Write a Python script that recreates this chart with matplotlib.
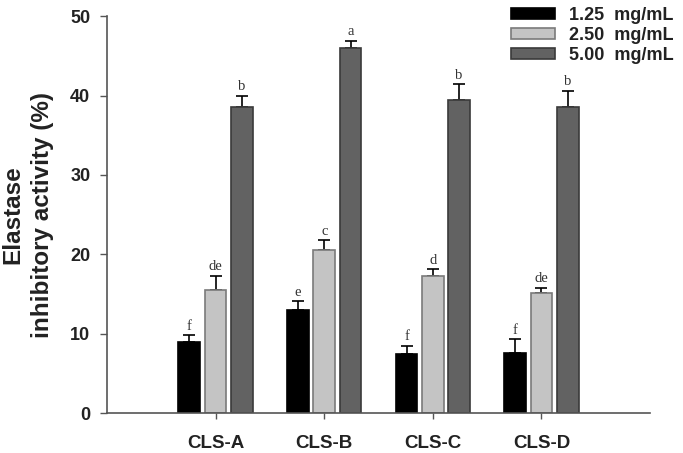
import matplotlib
matplotlib.use("Agg")
import matplotlib.pyplot as plt
import numpy as np

samples = ["CLS-A", "CLS-B", "CLS-C", "CLS-D"]
doses = ["1.25  mg/mL", "2.50  mg/mL", "5.00  mg/mL"]

low = [8.9, 13.0, 7.4, 7.6]
mid = [15.5, 20.6, 17.2, 15.1]
high = [38.6, 46.0, 39.5, 38.5]

low_err = [0.9, 1.1, 1.1, 1.7]
mid_err = [1.8, 1.2, 0.9, 0.7]
high_err = [1.4, 0.9, 1.9, 2.1]

low_lbl = ["f", "e", "f", "f"]
mid_lbl = ["de", "c", "d", "de"]
high_lbl = ["b", "a", "b", "b"]

plt.rcParams['font.family'] = ['Liberation Sans', 'DejaVu Sans']

fig = plt.figure(figsize=(6.83, 4.53), dpi=100)
ax = fig.add_axes([0.1567, 0.0883, 0.795, 0.876])

x = np.arange(1, len(samples) + 1)
width = 0.2
step = 0.242

series = [
    (low, low_err, low_lbl, "#000000", "#000000"),
    (mid, mid_err, mid_lbl, "#c4c4c4", "#7a7a7a"),
    (high, high_err, high_lbl, "#626262", "#3a3a3a"),
]

for i, (vals, errs, lbls, fc, ec) in enumerate(series):
    pos = x + (i - 1) * step
    ax.bar(pos, vals, width, color=fc, edgecolor=ec, linewidth=1.2,
           label=doses[i], zorder=2)
    ax.errorbar(pos, vals, yerr=[np.zeros(len(vals)), errs], fmt="none",
                ecolor="black", elinewidth=1.2, capsize=4, capthick=1.2, zorder=1)
    for p, v, e, t in zip(pos, vals, errs, lbls):
        ax.text(p, v + e + 0.3, t, ha="center", va="bottom",
                fontsize=10.5, family="Liberation Serif", color="#333333")

ax.set_xlim(0, 5)
ax.set_ylim(0, 50)
ax.set_yticks([0, 10, 20, 30, 40, 50])
ax.set_xticks(x)
ax.set_xticklabels(samples, fontsize=13.5, fontweight="bold", color="#222222")
for t in ax.get_yticklabels():
    t.set_fontsize(13)
    t.set_fontweight("bold")
    t.set_color("#222222")
ax.tick_params(axis="y", direction="out", length=5, width=1, color="#555555", pad=7)
ax.tick_params(axis="x", direction="out", length=4, width=1, color="#555555", pad=12)

for s in ["top", "right"]:
    ax.spines[s].set_visible(False)
for s in ["left", "bottom"]:
    ax.spines[s].set_color("#555555")
    ax.spines[s].set_linewidth(1.2)

ax.set_ylabel("Elastase\ninhibitory activity (%)", fontsize=17.5,
              fontweight="bold", color="#222222", labelpad=12, linespacing=1.35)

leg = fig.legend(loc="upper left", bbox_to_anchor=(0.738, 1.0), frameon=False,
                 prop={"weight": "bold", "size": 13}, handlelength=2.4,
                 handleheight=0.57, labelspacing=0.15, handletextpad=0.8,
                 borderaxespad=0)
for t in leg.get_texts():
    t.set_color("#222222")

fig.savefig("out.png", dpi=100)
